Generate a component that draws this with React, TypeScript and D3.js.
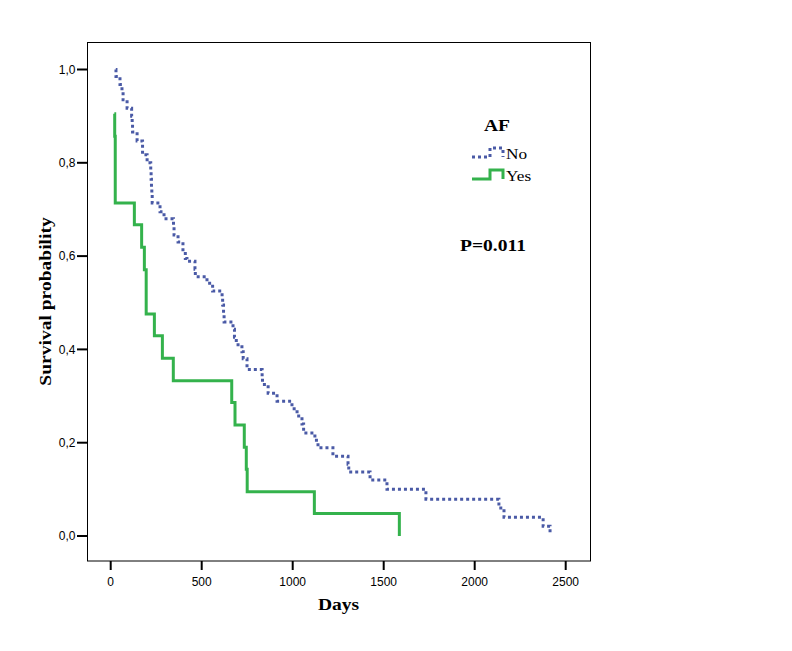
import React from "react";
import * as d3 from "d3";

const xTicks = [0, 500, 1000, 1500, 2000, 2500];
const yTicks = [0, 0.2, 0.4, 0.6, 0.8, 1.0];
const yTickLabels = ["0,0", "0,2", "0,4", "0,6", "0,8", "1,0"];

const seriesNames = ["No", "Yes"];

// AF = No (blue dotted)
const noTimes = [28, 29, 51, 62, 68, 90, 115, 118, 120, 145, 175, 200, 220, 222, 224, 226, 228, 271, 293, 345, 348, 370, 397, 410, 419, 463, 465, 529, 560, 612, 615, 620, 623, 672, 680, 690, 721, 728, 749, 832, 834, 865, 914, 996, 1024, 1051, 1060, 1122, 1139, 1221, 1304, 1308, 1425, 1518, 1732, 2133, 2161, 2376, 2414];
const noSurv = [1.0, 0.985, 0.968, 0.952, 0.935, 0.917, 0.9, 0.883, 0.866, 0.847, 0.817, 0.8, 0.782, 0.765, 0.748, 0.731, 0.714, 0.695, 0.68, 0.663, 0.645, 0.63, 0.61, 0.595, 0.589, 0.572, 0.556, 0.542, 0.525, 0.51, 0.495, 0.478, 0.459, 0.443, 0.426, 0.41, 0.395, 0.38, 0.357, 0.341, 0.325, 0.306, 0.289, 0.273, 0.257, 0.24, 0.221, 0.205, 0.189, 0.171, 0.154, 0.137, 0.12, 0.1, 0.079, 0.06, 0.04, 0.021, 0.005];

// AF = Yes (green solid)
const yesTimes = [20, 22, 25, 130, 170, 185, 195, 240, 284, 344, 665, 683, 734, 745, 750, 1119, 1586];
const yesSurv = [0.905, 0.857, 0.714, 0.667, 0.619, 0.571, 0.476, 0.429, 0.381, 0.333, 0.286, 0.238, 0.19, 0.143, 0.095, 0.048, 0.0];

const pValueText = "P=0.011";

const BLUE = "#4a5aa6";
const GREEN = "#34b24c";
const SERIF = "'Liberation Serif', 'Times New Roman', serif";
const SANS = "'Liberation Sans', Arial, sans-serif";
const STRETCH = 1.15;

function SerifText(props: {
  x: number;
  y: number;
  rotate?: number;
  anchor?: "start" | "middle" | "end";
  bold?: boolean;
  size: number;
  children: React.ReactNode;
}) {
  const { x, y, rotate = 0, anchor = "start", bold = false, size, children } = props;
  return (
    <text
      transform={`translate(${x},${y}) rotate(${rotate}) scale(${STRETCH},1)`}
      textAnchor={anchor}
      fontFamily={SERIF}
      fontWeight={bold ? "bold" : "normal"}
      fontSize={size}
      fill="#000"
    >
      {children}
    </text>
  );
}

export default function App() {
  const W = 792;
  const H = 651;
  const box = { left: 87.5, top: 42.5, right: 590.5, bottom: 561 };
  const x = d3.scaleLinear().domain([0, 2500]).range([110.7, 565.7]);
  const y = d3.scaleLinear().domain([0, 1]).range([536, 69.5]);

  const line = d3
    .line<[number, number]>()
    .x((d) => x(d[0]))
    .y((d) => y(d[1]))
    .curve(d3.curveStepAfter);

  const noPts: [number, number][] = noTimes.map((t, i) => [t, noSurv[i]]);
  const yesPts: [number, number][] = yesTimes.map((t, i) => [t, yesSurv[i]]);

  const legendStep = (y0: number) => `M472,${y0 + 9} H490 V${y0} H503 V${y0 + 9}`;

  return (
    <svg
      width={W}
      height={H}
      style={{ position: "absolute", left: 0, top: 0, background: "#fff" }}
    >
      <rect x={0} y={0} width={W} height={H} fill="#fff" />
      <rect
        x={box.left}
        y={box.top}
        width={box.right - box.left}
        height={box.bottom - box.top}
        fill="none"
        stroke="#000"
        strokeWidth={1}
      />
      {yTicks.map((v, i) => (
        <g key={"yt" + i}>
          <line x1={77} x2={box.left} y1={y(v)} y2={y(v)} stroke="#000" strokeWidth={2} />
          <text x={75.5} y={y(v) + 4.3} textAnchor="end" fontFamily={SANS} fontSize={12} fill="#000">
            {yTickLabels[i]}
          </text>
        </g>
      ))}
      {xTicks.map((v, i) => (
        <g key={"xt" + i}>
          <line x1={x(v)} x2={x(v)} y1={box.bottom} y2={570} stroke="#000" strokeWidth={2} />
          <text x={x(v)} y={586} textAnchor="middle" fontFamily={SANS} fontSize={12} fill="#000">
            {v}
          </text>
        </g>
      ))}
      <SerifText x={338.5} y={609.5} anchor="middle" bold size={17}>
        Days
      </SerifText>
      <SerifText x={51} y={301.5} rotate={-90} anchor="middle" bold size={17}>
        Survival probability
      </SerifText>

      <path
        d={line(noPts) || ""}
        fill="none"
        stroke={BLUE}
        strokeWidth={3}
        strokeDasharray="3 3"
      />
      <path d={line(yesPts) || ""} fill="none" stroke={GREEN} strokeWidth={3} />

      <SerifText x={497} y={131} anchor="middle" bold size={17}>
        AF
      </SerifText>
      <path d={legendStep(148)} fill="none" stroke={BLUE} strokeWidth={3} strokeDasharray="3 3" />
      <SerifText x={506} y={159} size={15}>
        {seriesNames[0]}
      </SerifText>
      <path d={legendStep(170)} fill="none" stroke={GREEN} strokeWidth={3} />
      <SerifText x={506} y={181} size={15}>
        {seriesNames[1]}
      </SerifText>

      <SerifText x={460} y={250.5} bold size={17}>
        {pValueText}
      </SerifText>
    </svg>
  );
}
